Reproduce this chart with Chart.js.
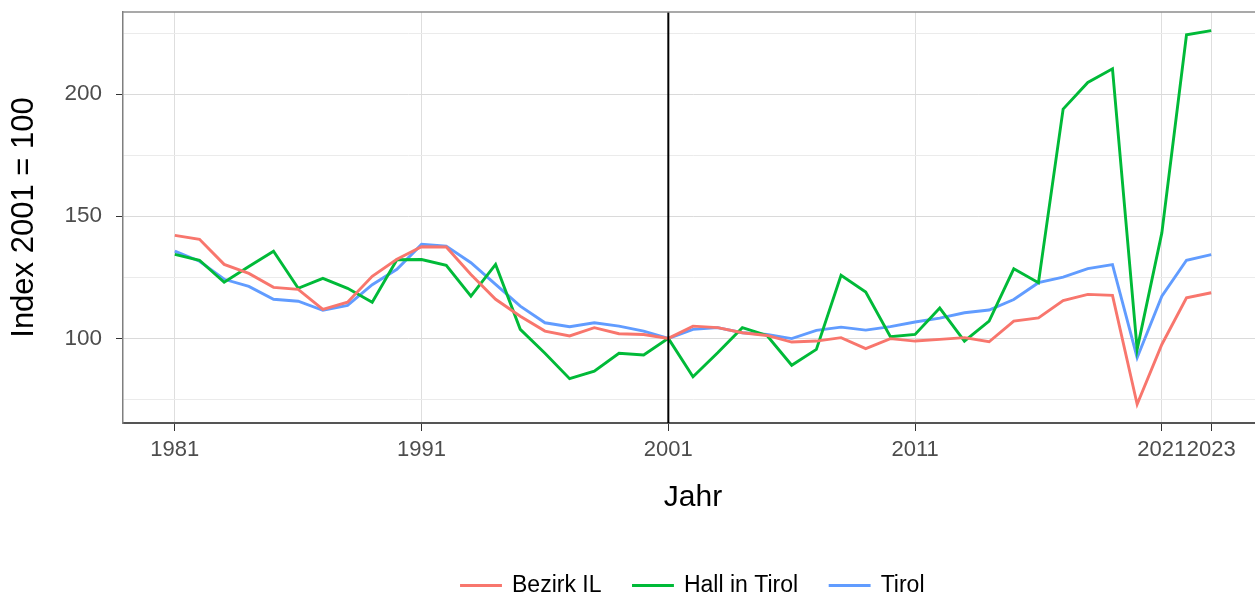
<!DOCTYPE html>
<html>
<head>
<meta charset="utf-8">
<script src="https://cdn.jsdelivr.net/npm/chart.js@4.4.0/dist/chart.umd.min.js"></script>
<style>
  html, body { margin: 0; padding: 0; background: #fff; overflow: hidden; }
  #wrap { width: 1263px; height: 597px; }
</style>
</head>
<body>
<div id="wrap"><canvas id="indexChart" width="1263" height="597"></canvas></div>
<script>
// données (index 2001 = 100)
const years = [1981, 1982, 1983, 1984, 1985, 1986, 1987, 1988, 1989, 1990,
  1991, 1992, 1993, 1994, 1995, 1996, 1997, 1998, 1999, 2000,
  2001, 2002, 2003, 2004, 2005, 2006, 2007, 2008, 2009, 2010,
  2011, 2012, 2013, 2014, 2015, 2016, 2017, 2018, 2019, 2020,
  2021, 2022, 2023];

const bezirkIL = [142.2, 140.6, 130.3, 126.6, 120.9, 120.1, 111.9, 114.8, 125.4, 132.4,
  137.5, 137.4, 126.2, 116.0, 109.1, 103.0, 101.0, 104.4, 101.9, 101.6,
  100.0, 105.0, 104.4, 102.3, 101.2, 98.5, 98.9, 100.3, 95.8, 99.9,
  98.9, 99.6, 100.3, 98.6, 107.1, 108.4, 115.5, 118.0, 117.6, 73.0,
  97.5, 116.6, 118.7];

const hallInTirol = [134.4, 132.0, 123.0, 129.4, 135.7, 120.5, 124.6, 120.5, 114.8, 132.2,
  132.3, 129.9, 117.3, 130.3, 103.7, 93.9, 83.5, 86.6, 93.9, 93.2,
  100.0, 84.3, 94.1, 104.4, 101.2, 89.0, 95.5, 125.8, 119.0, 100.7,
  101.6, 112.4, 98.9, 107.1, 128.5, 122.8, 193.9, 204.8, 210.4, 95.5,
  143.2, 224.3, 226.0];

const tirol = [135.7, 131.6, 124.2, 121.3, 116.0, 115.2, 111.5, 113.5, 122.0, 128.3,
  138.5, 137.8, 131.0, 122.1, 113.2, 106.4, 104.8, 106.4, 105.0, 103.0,
  100.0, 103.7, 104.4, 102.3, 101.6, 99.9, 103.3, 104.6, 103.4, 104.8,
  106.7, 108.3, 110.5, 111.6, 115.9, 122.8, 125.1, 128.6, 130.2, 92.1,
  117.3, 132.0, 134.3];

const seriesNames = ['Bezirk IL', 'Hall in Tirol', 'Tirol'];
const xTickYears = [1981, 1991, 2001, 2011, 2021, 2023];
const yGridValues = [75, 100, 125, 150, 175, 200, 225];
const yLabelValues = [100, 150, 200];
const markYear = 2001; // ligne verticale

const FONT = "'Liberation Sans', Arial, sans-serif";

function toPoints(values) {
  return years.map((yr, i) => ({ x: yr, y: values[i] }));
}

// trait vertical + bord haut du panneau
const panelExtras = {
  id: 'panelExtras',
  afterDatasetsDraw(chart) {
    const { ctx, chartArea, scales } = chart;
    ctx.save();
    const px = scales.x.getPixelForValue(markYear);
    ctx.strokeStyle = '#000000';
    ctx.lineWidth = 2;
    ctx.beginPath();
    ctx.moveTo(px, chartArea.top);
    ctx.lineTo(px, chartArea.bottom);
    ctx.stroke();

    ctx.strokeStyle = '#8c8c8c';
    ctx.lineWidth = 1.5;
    ctx.beginPath();
    ctx.moveTo(chartArea.left, chartArea.top);
    ctx.lineTo(chartArea.right, chartArea.top);
    ctx.stroke();
    ctx.restore();
  }
};

const ctx = document.getElementById('indexChart').getContext('2d');

const chart = new Chart(ctx, {
  type: 'line',
  data: {
    datasets: [{
      label: seriesNames[0],
      data: toPoints(bezirkIL),
      borderColor: '#F8766D',
      backgroundColor: '#F8766D'
    }, {
      label: seriesNames[1],
      data: toPoints(hallInTirol),
      borderColor: '#00BA38',
      backgroundColor: '#00BA38'
    }, {
      label: seriesNames[2],
      data: toPoints(tirol),
      borderColor: '#619CFF',
      backgroundColor: '#619CFF'
    }]
  },
  options: {
    responsive: false,
    animation: false,
    devicePixelRatio: 1,
    elements: {
      line: { borderWidth: 2.9, tension: 0, fill: false },
      point: { radius: 0, hoverRadius: 0 }
    },
    layout: { padding: { top: 12, right: 0, bottom: -10, left: 0 } },
    plugins: {
      tooltip: { enabled: false },
      legend: {
        position: 'bottom',
        fullSize: false,
        labels: {
          boxWidth: 39,
          boxHeight: 0.3,
          padding: 32,
          color: '#000000',
          font: { family: FONT, size: 23 }
        }
      }
    },
    scales: {
      x: {
        type: 'linear',
        min: 1978.9,
        max: 2025.1,
        afterBuildTicks: scale => { scale.ticks = xTickYears.map(v => ({ value: v })); },
        afterFit: scale => { scale.height = 119; },
        ticks: {
          autoSkip: false,
          maxRotation: 0,
          padding: 6,
          color: '#4d4d4d',
          font: { family: FONT, size: 22 },
          callback: v => String(v)
        },
        grid: { color: '#dedede', lineWidth: 1, tickLength: 8, tickColor: '#333333' },
        border: { color: '#555555', width: 2 },
        title: {
          display: true,
          text: 'Jahr',
          color: '#000000',
          font: { family: FONT, size: 30 },
          padding: { top: 0, bottom: 26 }
        }
      },
      y: {
        type: 'linear',
        min: 65.35,
        max: 233.65,
        afterBuildTicks: scale => { scale.ticks = yGridValues.map(v => ({ value: v })); },
        afterFit: scale => {
          scale.width = 123;
          scale.paddingTop = 0;
          scale.paddingBottom = 0;
        },
        ticks: {
          padding: 14,
          color: '#4d4d4d',
          font: { family: FONT, size: 22.5 },
          callback: v => yLabelValues.includes(v) ? String(v) : ''
        },
        grid: {
          color: c => (c.tick && yLabelValues.includes(c.tick.value)) ? '#dadada' : '#ebebeb',
          lineWidth: 1,
          tickLength: 7,
          tickColor: c => (c.tick && yLabelValues.includes(c.tick.value)) ? '#333333' : 'rgba(0,0,0,0)'
        },
        border: { color: '#7f7f7f', width: 1.5 },
        title: {
          display: true,
          text: 'Index 2001 = 100',
          color: '#000000',
          font: { family: FONT, size: 31 },
          padding: { top: 6, bottom: 0 }
        }
      }
    }
  },
  plugins: [panelExtras]
});
</script>
</body>
</html>
